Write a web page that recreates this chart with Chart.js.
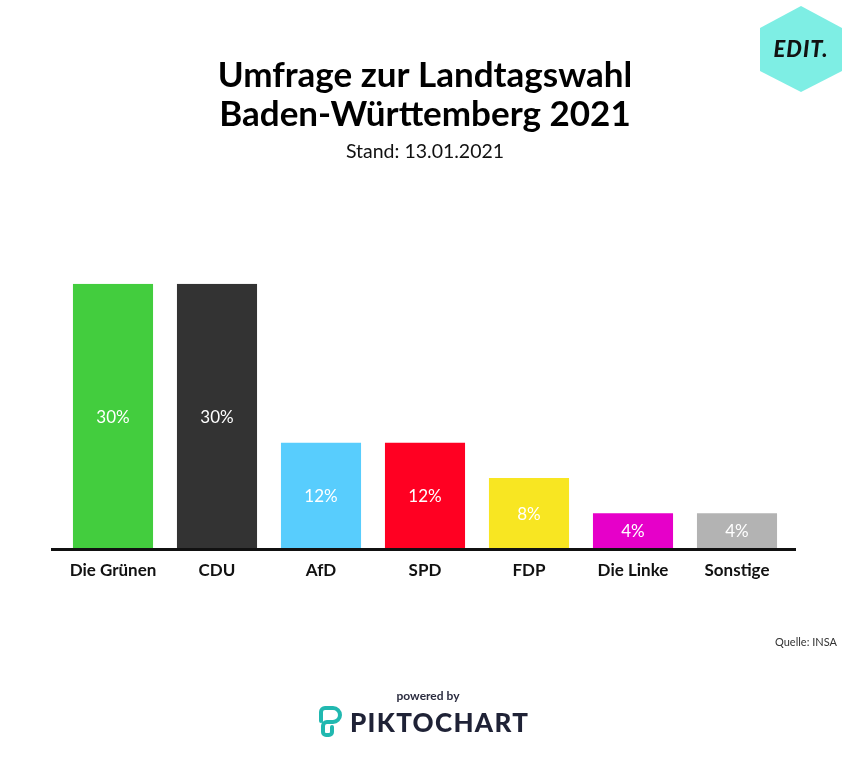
<!DOCTYPE html>
<html>
<head>
<meta charset="utf-8">
<script src="https://cdn.jsdelivr.net/npm/chart.js@4"></script>
<style>
  body { margin: 0; background: #fff; }
  #wrap { position: relative; width: 850px; height: 761px; overflow: hidden; }
  #chart { position: absolute; left: 0; top: 0; }
  .quelle { position: absolute; right: 13px; top: 635px; font: 11px Lato, sans-serif; color: #333; }
  .powered { position: absolute; left: 0; width: 856px; top: 688px; text-align: center; font: bold 12px Lato, sans-serif; color: #2b2c3f; }
  .pikto { position: absolute; left: 350px; top: 706px; font: 900 26px Lato, sans-serif; letter-spacing: 1.3px; color: #1f2236; }
  .logo { position: absolute; left: 758px; top: 4px; }
  .pic { position: absolute; left: 317px; top: 706px; }
</style>
</head>
<body>
<div id="wrap">
  <canvas id="chart" width="850" height="761"></canvas>
  <svg class="logo" width="86" height="90" viewBox="0 0 86 90">
    <polygon points="43,2 84,24 84,67 43,88 2,67 2,24" fill="#7eeee4"/>
    <text x="43" y="53" text-anchor="middle" font-family="Lato" font-weight="900" font-style="italic" font-size="22" letter-spacing="1" fill="#111">EDIT.</text>
  </svg>
  <div class="quelle">Quelle: INSA</div>
  <div class="powered">powered by</div>
  <svg class="pic" width="26" height="32" viewBox="0 0 26 32">
    <path d="M4 15 V6 a4 4 0 0 1 4 -4 H16 a7 7 0 0 1 0 14 H10 a4 4 0 0 0 -4 4 V26 a3 3 0 0 0 3 3 H12 a3 3 0 0 0 3 -3 V21" fill="none" stroke="#21b8b0" stroke-width="4" stroke-linecap="round" stroke-linejoin="round"/>
  </svg>
  <div class="pikto">PIKTOCHART</div>
</div>
<script>
// poll data
var parties = ['Die Grünen', 'CDU', 'AfD', 'SPD', 'FDP', 'Die Linke', 'Sonstige'];
var percent = [30, 30, 12, 12, 8, 4, 4];
var partyColors = ['#43cd3e', '#333333', '#58cdfd', '#ff0022', '#f8e622', '#e600c9', '#b3b3b3'];

// white % labels in the middle of each bar, plus the heavy base line
var barExtras = {
  id: 'barExtras',
  afterDatasetsDraw: function (chart) {
    var ctx = chart.ctx;
    var area = chart.chartArea;
    var base = chart.scales.y.getPixelForValue(0);

    ctx.save();
    ctx.strokeStyle = '#111';
    ctx.lineWidth = 3;
    ctx.beginPath();
    ctx.moveTo(area.left - 10, base + 1);
    ctx.lineTo(area.right + 7, base + 1);
    ctx.stroke();

    ctx.fillStyle = '#fff';
    ctx.font = '17px Lato';
    ctx.textAlign = 'center';
    ctx.textBaseline = 'middle';
    chart.getDatasetMeta(0).data.forEach(function (bar, i) {
      ctx.fillText(percent[i] + '%', bar.x, (bar.y + bar.base) / 2 + 1);
    });
    ctx.restore();
  }
};

var chartData = {
  labels: parties,
  datasets: [{
    data: percent,
    backgroundColor: partyColors,
    borderWidth: 0,
    barPercentage: 0.77,
    categoryPercentage: 1
  }]
};

var config = {
  type: 'bar',
  data: chartData,
  options: {
    responsive: false,
    animation: false,
    layout: { padding: { left: 61, right: 61, top: 0, bottom: 168 } },
    plugins: {
      legend: { display: false },
      tooltip: { enabled: false },
      title: {
        display: true,
        text: ['Umfrage zur Landtagswahl', 'Baden-Württemberg 2021'],
        color: '#000',
        font: { family: 'Lato', size: 35, weight: 'bold', lineHeight: 1.12 },
        padding: { top: 56, bottom: 0 }
      },
      subtitle: {
        display: true,
        text: 'Stand: 13.01.2021',
        color: '#111',
        font: { family: 'Lato', size: 19.5, lineHeight: 1.2 },
        padding: { top: 6, bottom: 120 }
      }
    },
    scales: {
      x: {
        grid: { display: false, drawTicks: false },
        border: { display: false },
        ticks: {
          color: '#111',
          padding: 12,
          font: { family: 'Lato', size: 17, weight: 'bold' }
        }
      },
      y: {
        display: false,
        min: 0,
        max: 30
      }
    }
  },
  plugins: [barExtras]
};

var myChart = new Chart(document.querySelector('#chart'), config);
</script>
</body>
</html>
